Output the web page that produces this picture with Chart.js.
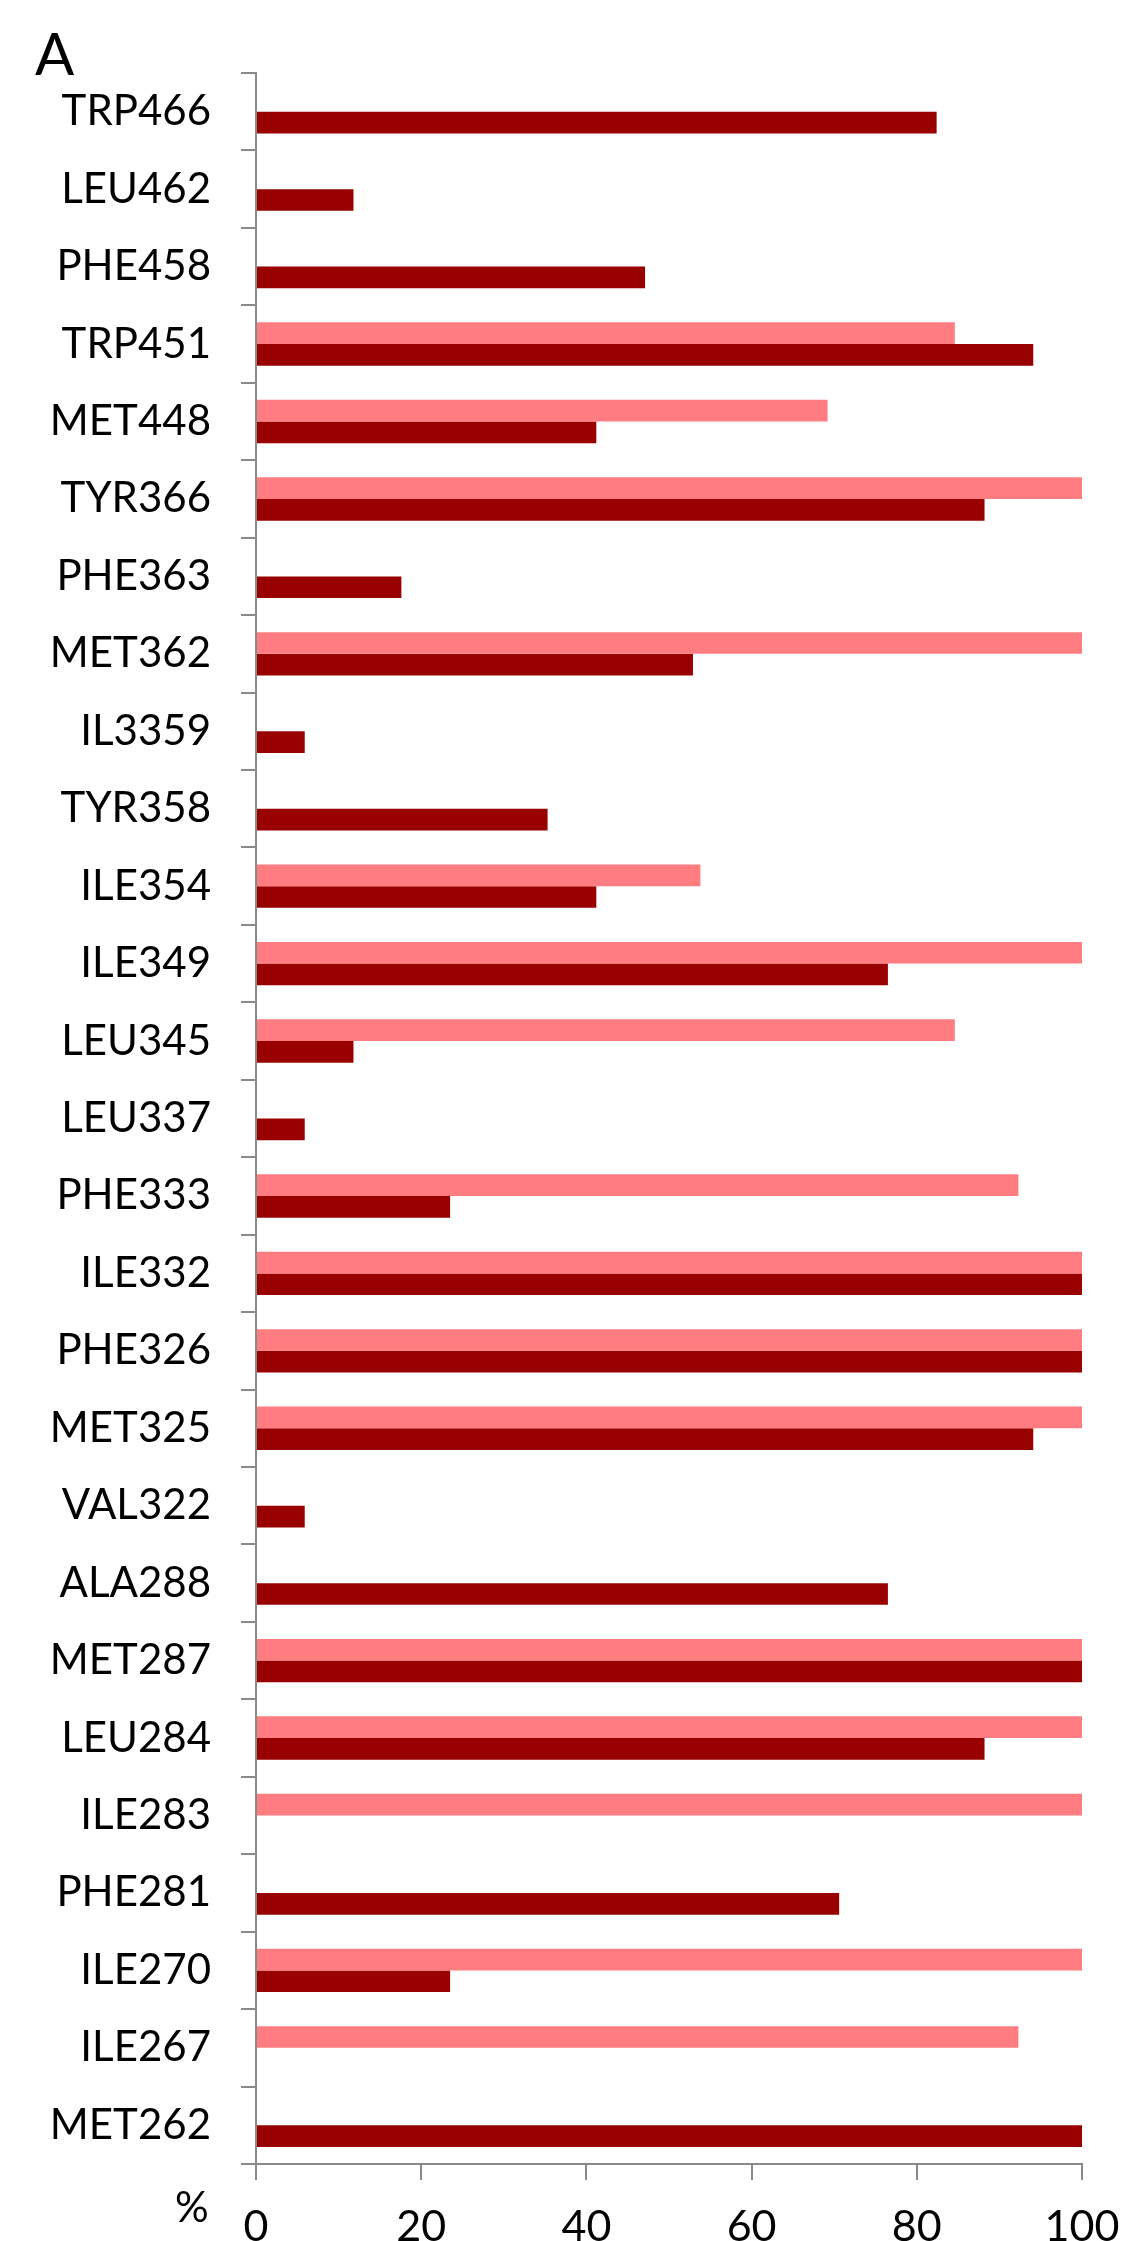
<!DOCTYPE html>
<html>
<head>
<meta charset="utf-8">
<script src="https://cdn.jsdelivr.net/npm/chart.js@4.4.0/dist/chart.umd.min.js"></script>
<style>
    html, body { margin: 0; padding: 0; background: #fff; }
    #residueChart { display: block; }
</style>
</head>
<body>
<canvas id="residueChart" width="1131" height="2241"></canvas>
<script>
const residues = ['TRP466', 'LEU462', 'PHE458', 'TRP451', 'MET448', 'TYR366', 'PHE363', 'MET362', 'IL3359',
    'TYR358', 'ILE354', 'ILE349', 'LEU345', 'LEU337', 'PHE333', 'ILE332', 'PHE326', 'MET325', 'VAL322',
    'ALA288', 'MET287', 'LEU284', 'ILE283', 'PHE281', 'ILE270', 'ILE267', 'MET262']

// light series (drawn in the upper half of each row)
const lightValues = [null, null, null, 84.6, 69.2, 100, null, 100, null,
    null, 53.8, 100, 84.6, null, 92.3, 100, 100, 100, null,
    null, 100, 100, 100, null, 100, 92.3, null]

// dark series (lower half of each row)
const darkValues = [82.4, 11.8, 47.1, 94.1, 41.2, 88.2, 17.6, 52.9, 5.9,
    35.3, 41.2, 76.5, 11.8, 5.9, 23.5, 100, 100, 94.1, 5.9,
    76.5, 100, 88.2, null, 70.6, 23.5, null, 100]

const xTicks = [0, 20, 40, 60, 80, 100]

const axisColor = '#8a8a8a'

const panelLabels = {
    id: 'panelLabels',
    afterDraw(chart) {
        const ctx = chart.ctx
        ctx.save()
        ctx.fillStyle = '#000'
        ctx.textBaseline = 'alphabetic'
        ctx.font = '58px Lato'
        ctx.fillText('A', 35, 75)
        ctx.font = '42px Lato'
        ctx.fillText('%', 175, 2222)
        ctx.restore()
    }
}

const context = document.getElementById('residueChart').getContext('2d')

new Chart(context, {
    type: 'bar',
    data: {
        labels: residues,
        datasets: [{
            label: 'light',
            data: lightValues,
            backgroundColor: '#FF7C80',
            barPercentage: 1,
            categoryPercentage: 0.56
        }, {
            label: 'dark',
            data: darkValues,
            backgroundColor: '#990000',
            barPercentage: 1,
            categoryPercentage: 0.56
        }]
    },
    options: {
        indexAxis: 'y',
        responsive: false,
        animation: false,
        layout: {
            padding: { top: 73, right: 49, left: 0, bottom: 0 }
        },
        plugins: {
            legend: { display: false },
            tooltip: { enabled: false }
        },
        scales: {
            x: {
                min: 0,
                max: 100,
                afterBuildTicks: scale => {
                    scale.ticks = xTicks.map(v => ({ value: v }))
                },
                afterFit: scale => {
                    scale.height = 77
                    scale.paddingLeft = 0
                    scale.paddingRight = 0
                },
                border: { color: axisColor, width: 2 },
                grid: {
                    drawOnChartArea: false,
                    drawTicks: true,
                    tickLength: 16,
                    color: axisColor,
                    lineWidth: 2
                },
                ticks: {
                    color: '#000',
                    padding: 21,
                    maxRotation: 0,
                    font: { family: 'Lato', size: 43 }
                }
            },
            y: {
                afterFit: scale => {
                    scale.width = 256
                    scale.paddingTop = 0
                    scale.paddingBottom = 0
                },
                border: { color: axisColor, width: 2 },
                grid: {
                    offset: true,
                    drawOnChartArea: false,
                    drawTicks: true,
                    tickLength: 15,
                    color: axisColor,
                    lineWidth: 2
                },
                ticks: {
                    color: '#000',
                    padding: 30,
                    autoSkip: false,
                    font: { family: 'Lato', size: 42 }
                }
            }
        }
    },
    plugins: [panelLabels]
});
</script>
</body>
</html>
